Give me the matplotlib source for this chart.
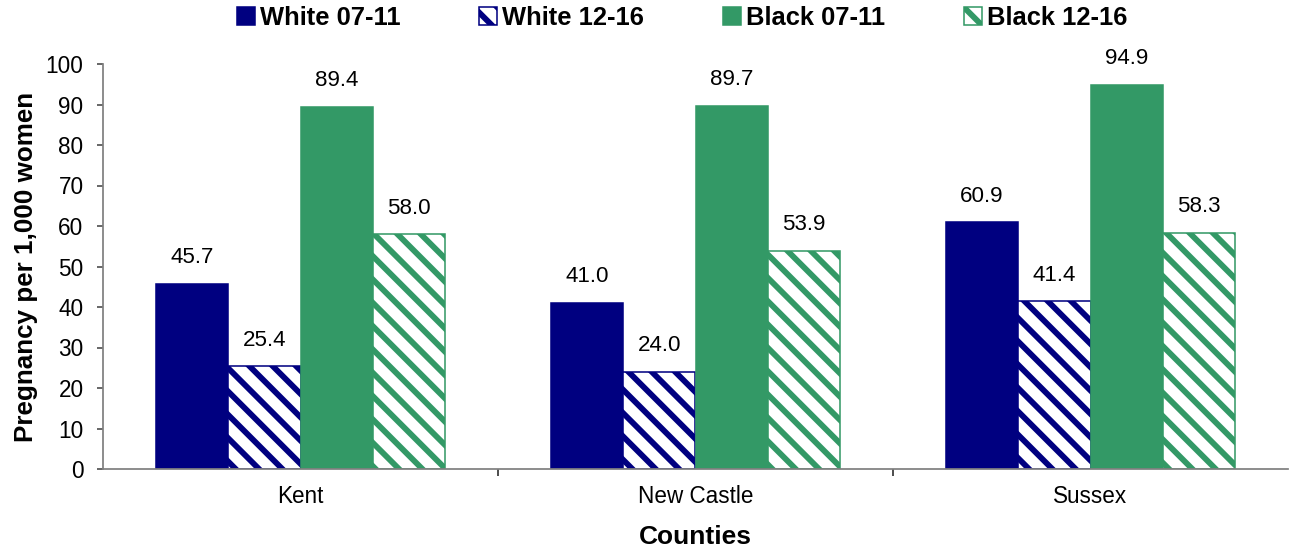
import matplotlib
matplotlib.use("Agg")
import matplotlib.pyplot as plt
import numpy as np

plt.rcParams['font.family'] = ['Liberation Sans', 'DejaVu Sans']
plt.rcParams['hatch.linewidth'] = 3.0

counties = ["Kent", "New Castle", "Sussex"]
series = ["White 07-11", "White 12-16", "Black 07-11", "Black 12-16"]
white_0711 = [45.7, 41.0, 60.9]
white_1216 = [25.4, 24.0, 41.4]
black_0711 = [89.4, 89.7, 94.9]
black_1216 = [58.0, 53.9, 58.3]
values = [white_0711, white_1216, black_0711, black_1216]

navy = "#000080"
green = "#339966"
styles = [
    dict(facecolor=navy, edgecolor=navy, hatch=None),
    dict(facecolor="white", edgecolor=navy, hatch="\\\\"),
    dict(facecolor=green, edgecolor=green, hatch=None),
    dict(facecolor="white", edgecolor=green, hatch="\\\\"),
]

fig = plt.figure(figsize=(1289 / 140, 548 / 140), dpi=140)
ax = fig.add_axes([103 / 1289, 1 - 469 / 548, 1185 / 1289, 405 / 548])

x = np.arange(len(counties))
w = 0.1835
for i, (vals, st) in enumerate(zip(values, styles)):
    pos = x + (i - 1.5) * w
    bars = ax.bar(pos, vals, w, facecolor=st["facecolor"], edgecolor=st["edgecolor"],
                  hatch=st["hatch"], linewidth=0.8, label=series[i])
    for b, v in zip(bars, vals):
        ax.annotate("%.1f" % v, (b.get_x() + b.get_width() / 2, v),
                    xytext=(0, 8), textcoords="offset points",
                    ha="center", va="bottom", fontsize=11.5)

ax.set_xlim(-0.5, 2.5)
ax.set_ylim(0, 100)
ax.set_yticks(range(0, 101, 10))
ax.set_xticks(x)
ax.set_xticklabels(counties)
ax.set_xticks([0.5, 1.5], minor=True)
ax.tick_params(axis="x", which="major", length=0, pad=8, labelsize=11.6)
ax.tick_params(axis="x", which="minor", length=3.5, width=0.8, color="#202020")
ax.tick_params(axis="y", length=3, width=0.8, color="#404040", pad=7, labelsize=11.6)

for s in ["top", "right"]:
    ax.spines[s].set_visible(False)
for s in ["left", "bottom"]:
    ax.spines[s].set_color("#808080")
    ax.spines[s].set_linewidth(0.9)

ax.set_ylabel("Pregnancy per 1,000 women", fontsize=13.4, fontweight="bold", labelpad=4)
ax.set_xlabel("Counties", fontsize=13.6, fontweight="bold", labelpad=9)

ax.legend(loc="center", bbox_to_anchor=(682 / 1289, 1 - 18 / 548), bbox_transform=fig.transFigure,
          ncol=4, frameon=False, prop=dict(size=13.1, weight="bold"),
          handlelength=0.7, handleheight=0.7, handletextpad=0.2, columnspacing=3.1,
          borderaxespad=0)

fig.savefig("out.png", dpi=140)
